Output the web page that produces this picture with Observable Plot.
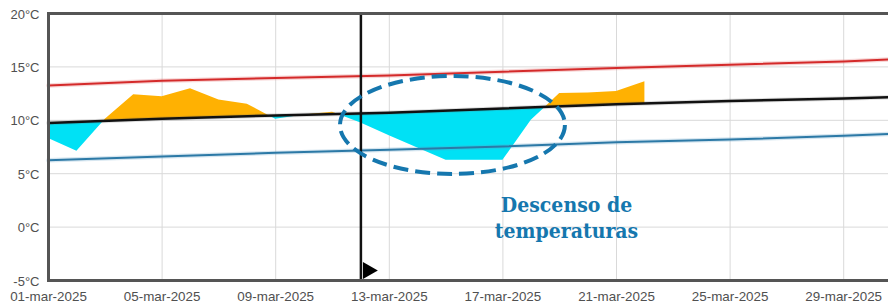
<!DOCTYPE html>
<html>
<head>
<meta charset="utf-8">
<script src="https://cdn.jsdelivr.net/npm/d3@7"></script>
<script src="https://cdn.jsdelivr.net/npm/@observablehq/plot@0.6"></script>
<style>
  html, body { margin: 0; padding: 0; background: #fff; overflow: hidden; }
  #chart svg { max-width: none !important; }
</style>
</head>
<body>
<div id="chart"></div>
<script>
// ---- Data ----
const normalDates = ["2025-03-01","2025-03-05","2025-03-09","2025-03-13","2025-03-17","2025-03-21","2025-03-25","2025-03-29","2025-03-31"];
const normalMax  = [13.25, 13.7, 13.95, 14.2, 14.55, 14.9, 15.2, 15.5, 15.75];
const normalMean = [9.75, 10.15, 10.45, 10.7, 11.1, 11.5, 11.8, 12.05, 12.2];
const normalMin  = [6.25, 6.6, 6.95, 7.25, 7.55, 7.95, 8.2, 8.55, 8.75];

const obsDates = ["2025-03-01","2025-03-02","2025-03-03","2025-03-04","2025-03-05","2025-03-06","2025-03-07","2025-03-08","2025-03-09","2025-03-10","2025-03-11","2025-03-12","2025-03-13","2025-03-14","2025-03-15","2025-03-16","2025-03-17","2025-03-18","2025-03-19","2025-03-20","2025-03-21","2025-03-22"];
const obsTemp  = [8.3, 7.1, 10.1, 12.4, 12.2, 12.95, 11.9, 11.5, 10.1, 10.5, 10.75, 9.75, 8.55, 7.4, 6.25, 6.25, 6.25, 10.0, 12.5, 12.55, 12.7, 13.6];

const xTickDates  = ["2025-03-01","2025-03-05","2025-03-09","2025-03-13","2025-03-17","2025-03-21","2025-03-25","2025-03-29"];
const xTickLabels = ["01-mar-2025","05-mar-2025","09-mar-2025","13-mar-2025","17-mar-2025","21-mar-2025","25-mar-2025","29-mar-2025"];
const yTicks = [-5, 0, 5, 10, 15, 20];
const yTickLabels = ["-5°C", "0°C", "5°C", "10°C", "15°C", "20°C"];

const todayDate = ["2025-03-12"];
const ellipseX = ["2025-03-11T06:45Z", "2025-03-19T04:50Z"];
const ellipseY = [4.93, 14.1];
const noteText = ["Descenso de\ntemperaturas"];
const noteX = ["2025-03-19T05:45Z"];
const noteY = [3.15];

// ---- Build tables ----
const P = s => new Date(s);
const normals = normalDates.map((d, i) => ({date: P(d), max: normalMax[i], mean: normalMean[i], min: normalMin[i]}));
const meanAt = d3.scaleUtc().domain(normalDates.map(P)).range(normalMean);

const pts = [];
for (let i = 0; i < obsDates.length; i++) {
  const d = P(obsDates[i]), t = obsTemp[i], m = meanAt(d);
  pts.push({date: d, t, m});
  if (i < obsDates.length - 1) {
    const d2 = P(obsDates[i + 1]), t2 = obsTemp[i + 1], m2 = meanAt(d2);
    const a = t - m, b = t2 - m2;
    if (a * b < 0) {
      const f = a / (a - b);
      const c = new Date(+d + f * (+d2 - +d));
      const mc = meanAt(c);
      pts.push({date: c, t: mc, m: mc});
    }
  }
}

const ORANGE = "#FFB102", CYAN = "#00E1F5", NOTE = "#1577AE", LABEL = "#505050";

const ellipseMark = (index, scales, values, dims) => {
  const x0 = scales.x(P(ellipseX[0])), x1 = scales.x(P(ellipseX[1]));
  const y0 = scales.y(ellipseY[0]), y1 = scales.y(ellipseY[1]);
  return d3.create("svg:ellipse")
    .attr("cx", (x0 + x1) / 2).attr("cy", (y0 + y1) / 2)
    .attr("rx", Math.abs(x1 - x0) / 2).attr("ry", Math.abs(y0 - y1) / 2)
    .attr("fill", "none").attr("stroke", NOTE).attr("stroke-width", 4)
    .attr("stroke-dasharray", "15 7")
    .node();
};

const xTicks = xTickDates.map(P);
const SANS = "'Liberation Sans', Arial, sans-serif";

const chart = Plot.plot({
  width: 902, height: 303,
  marginLeft: 48, marginRight: 2, marginTop: 13, marginBottom: 23,
  style: {fontFamily: SANS, color: LABEL, background: "#fff", maxWidth: "none"},
  x: {type: "utc", domain: [P("2025-03-01"), P("2025-03-31")], axis: null},
  y: {domain: [-5, 20], axis: null},
  marks: [
    Plot.gridX(xTicks, {stroke: "#d9d9d9", strokeOpacity: 1}),
    Plot.gridY(yTicks, {stroke: "#d9d9d9", strokeOpacity: 1}),
    Plot.areaY(pts, {x: "date", y1: "m", y2: d => Math.max(d.t, d.m), fill: ORANGE}),
    Plot.areaY(pts, {x: "date", y1: "m", y2: d => Math.min(d.t, d.m), fill: CYAN}),
    Plot.lineY(normals, {x: "date", y: "max", stroke: "#e06060", strokeWidth: 4.5, strokeOpacity: 0.25}),
    Plot.lineY(normals, {x: "date", y: "min", stroke: "#5a9cc4", strokeWidth: 4.5, strokeOpacity: 0.25}),
    Plot.lineY(normals, {x: "date", y: "mean", stroke: "#666", strokeWidth: 4.5, strokeOpacity: 0.2}),
    Plot.lineY(normals, {x: "date", y: "max", stroke: "#D42A2A", strokeWidth: 2}),
    Plot.lineY(normals, {x: "date", y: "min", stroke: "#2C79A6", strokeWidth: 2}),
    Plot.lineY(normals, {x: "date", y: "mean", stroke: "#111", strokeWidth: 2.5}),
    Plot.ruleX(todayDate.map(P), {stroke: "#111", strokeWidth: 2.5}),
    Plot.dot(todayDate.map(P), {x: d => d, y: () => -5, symbol: "triangle", rotate: 90, r: 6.4, fill: "#000", dx: 7, dy: -10}),
    ellipseMark,
    Plot.text(noteText, {x: () => P(noteX[0]), y: () => noteY[0], text: d => d, lineAnchor: "top", lineHeight: 1.24,
      fontSize: 21, fontWeight: "bold", fontFamily: "'DejaVu Serif Condensed', 'DejaVu Serif', serif", fill: NOTE}),
    Plot.frame({stroke: "#555", strokeWidth: 3}),
    Plot.text(yTicks, {y: d => d, text: (d, i) => yTickLabels[i], frameAnchor: "left", textAnchor: "end", lineAnchor: "middle",
      dx: -9, dy: 1, fontSize: 13, fontFamily: SANS, fill: LABEL}),
    Plot.text(xTicks, {x: d => d, text: (d, i) => xTickLabels[i], frameAnchor: "bottom", lineAnchor: "middle",
      dy: 16.5, fontSize: 13.4, fontFamily: SANS, fill: LABEL})
  ]
});
chart.style.maxWidth = "none";
document.getElementById("chart").appendChild(chart);
</script>
</body>
</html>
